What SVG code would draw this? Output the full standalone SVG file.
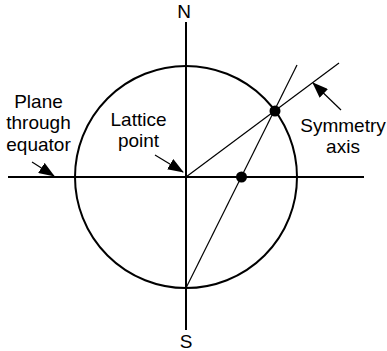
<svg xmlns="http://www.w3.org/2000/svg" width="387" height="351" viewBox="0 0 387 351">
<style>
text{font-family:"Liberation Sans",Arial,sans-serif;font-size:19px;fill:#000;text-anchor:middle}
.thick{stroke:#000;stroke-width:2;fill:none}
.thin{stroke:#000;stroke-width:1.2;fill:none}
.arr{stroke:#000;stroke-width:1.2;fill:none;marker-end:url(#ah)}
</style>
<defs>
<marker id="ah" markerWidth="16" markerHeight="12" refX="15" refY="6" orient="auto" markerUnits="userSpaceOnUse">
<path d="M0,0 L16,6 L0,12 Z" fill="#000"/>
</marker>
</defs>
<rect width="387" height="351" fill="#fff"/>
<g id="circle"><circle class="thick" cx="186" cy="177" r="111"/></g>
<g id="connectors">
<line class="thick" x1="8" y1="177" x2="364" y2="177"/>
<line class="thick" x1="186" y1="22" x2="186" y2="330"/>
<line class="thin" x1="186" y1="177" x2="339" y2="63"/>
<line class="thin" x1="186" y1="288" x2="297" y2="65"/>
<line class="arr" x1="32" y1="162" x2="54" y2="176"/>
<line class="arr" x1="155" y1="155" x2="183" y2="172"/>
<line class="arr" x1="341" y1="110" x2="313" y2="83"/>
</g>
<g id="point-top"><circle cx="275" cy="111" r="5.5" fill="#000"/></g>
<g id="point-equator"><circle cx="241.5" cy="177" r="5.5" fill="#000"/></g>
<g id="label-N"><text x="184" y="18">N</text></g>
<g id="label-S"><text x="186" y="348">S</text></g>
<g id="label-plane"><text x="38.5" y="108">Plane</text><text x="38.5" y="129">through</text><text x="38.5" y="151">equator</text></g>
<g id="label-lattice"><text x="138.5" y="126">Lattice</text><text x="138.5" y="147">point</text></g>
<g id="label-symmetry"><text x="343" y="132">Symmetry</text><text x="343" y="153">axis</text></g>
</svg>
